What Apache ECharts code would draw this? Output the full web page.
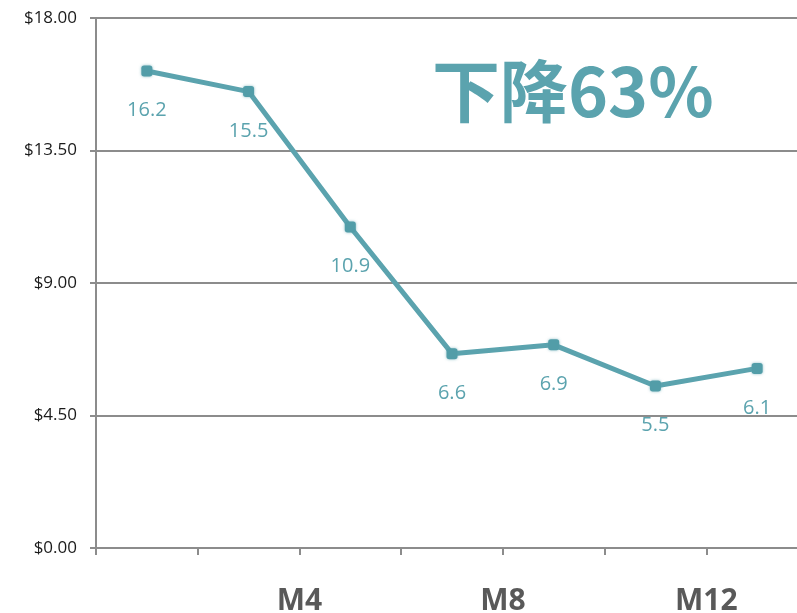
<!DOCTYPE html>
<html>
<head>
<meta charset="utf-8">
<script src="https://cdn.jsdelivr.net/npm/echarts@6/dist/echarts.min.js"></script>
<style>
html,body{margin:0;padding:0;background:#fff;}
#chart{width:797px;height:613px;}
</style>
</head>
<body>
<div id="chart"></div>
<script>
// Data
const months = [1, 3, 5, 7, 9, 11, 13];
const prices = [16.2, 15.5, 10.9, 6.6, 6.9, 5.5, 6.1];
const xLabelValues = [4, 8, 12];
const xLabelTexts = ['M4', 'M8', 'M12'];
const yTicks = [0, 4.5, 9, 13.5, 18];
const annotation = '下降63%';

const teal = '#5BA3AE';
const gray = '#8C8C8C';

const chart = echarts.init(document.getElementById('chart'), null, {renderer: 'canvas'});
chart.setOption({
  animation: false,
  backgroundColor: '#fff',
  grid: {left: 96, top: 18, width: 712, bottom: 65, containLabel: false, outerBoundsMode: 'none'},
  xAxis: {
    type: 'value', min: 0, max: 14, interval: 2,
    axisLine: {show: true, lineStyle: {color: gray, width: 2}},
    axisTick: {show: true, length: 7, lineStyle: {color: gray, width: 2}},
    splitLine: {show: false},
    axisLabel: {
      margin: 38,
      fontFamily: 'Open Sans', fontWeight: 'bold', fontSize: 30, color: '#595959',
      formatter: v => { const i = xLabelValues.indexOf(v); return i >= 0 ? xLabelTexts[i] : ''; }
    }
  },
  yAxis: {
    type: 'value', min: yTicks[0], max: yTicks[yTicks.length - 1], interval: yTicks[1] - yTicks[0],
    axisLine: {show: true, lineStyle: {color: gray, width: 2}},
    axisTick: {show: true, length: 6, lineStyle: {color: gray, width: 2}},
    splitLine: {show: true, lineStyle: {color: gray, width: 2}},
    axisLabel: {
      margin: 19, fontFamily: 'Open Sans', fontSize: 17, color: '#1a1a1a',
      formatter: v => '$' + v.toFixed(2)
    }
  },
  series: [{
    type: 'line',
    data: months.map((m, i) => [m, prices[i]]),
    symbol: 'roundRect', symbolSize: 11,
    lineStyle: {color: teal, width: 5},
    itemStyle: {color: '#529DA8', shadowBlur: 3, shadowColor: 'rgba(91,163,174,0.7)'},
    label: {
      show: true, position: 'bottom', distance: 24,
      fontFamily: 'Open Sans', fontSize: 20, color: teal,
      formatter: p => p.value[1].toFixed(1)
    }
  }],
  graphic: [{
    type: 'text', left: 432, top: 57,
    style: {
      text: annotation, fontFamily: 'Noto Sans CJK SC', fontWeight: 'bold',
      fontSize: 68, fill: teal
    }
  }]
});
</script>
</body>
</html>
